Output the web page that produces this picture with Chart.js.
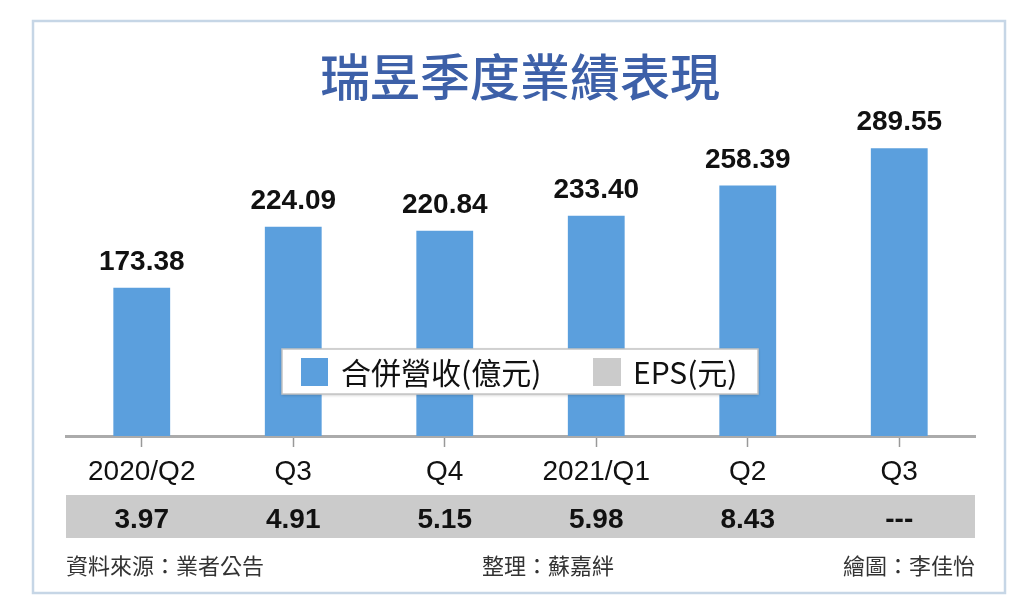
<!DOCTYPE html>
<html>
<head>
<meta charset="utf-8">
<script src="https://cdn.jsdelivr.net/npm/chart.js@4.4.0/dist/chart.umd.min.js"></script>
<style>
  html, body { margin: 0; padding: 0; background: #fff; }
</style>
</head>
<body>
<canvas id="rtkChart" width="1024" height="609"></canvas>
<script>
// Quarterly results data
var quarters = ['2020/Q2', 'Q3', 'Q4', '2021/Q1', 'Q2', 'Q3'];
var revenue = [173.38, 224.09, 220.84, 233.40, 258.39, 289.55];
var eps = [3.97, 4.91, 5.15, 5.98, 8.43, null];

var titleText = '瑞昱季度業績表現';
var revenueLabel = '合併營收(億元)';
var epsLabel = 'EPS(元)';
var footerLeft = '資料來源：業者公告';
var footerMid = '整理：蘇嘉絆';
var footerRight = '繪圖：李佳怡';

var BLUE = '#5b9fdd';
var GRAY = '#cbcbcb';
var CJK = '"Noto Sans CJK TC", "Noto Sans CJK SC", sans-serif';
var NUM = '"Liberation Sans", Arial, sans-serif';

// frame, title, EPS band behind everything
var backdrop = {
  id: 'backdrop',
  beforeDraw: function(chart) {
    var ctx = chart.ctx;
    var area = chart.chartArea;
    ctx.save();
    ctx.fillStyle = '#fff';
    ctx.fillRect(0, 0, chart.width, chart.height);
    ctx.strokeStyle = '#c6d6e6';
    ctx.lineWidth = 2.5;
    ctx.strokeRect(33, 21, 972, 572);

    ctx.fillStyle = '#3d60a8';
    ctx.font = '500 50px ' + CJK;
    ctx.textAlign = 'center';
    ctx.textBaseline = 'middle';
    ctx.fillText(titleText, 520, 77);

    ctx.fillStyle = GRAY;
    ctx.fillRect(area.left, 495, area.right - area.left, 43);
    ctx.restore();
  }
};

// value labels, legend box, EPS row, footer
var overlay = {
  id: 'overlay',
  afterDatasetsDraw: function(chart) {
    var ctx = chart.ctx;
    var area = chart.chartArea;
    var xScale = chart.scales.x;
    var meta = chart.getDatasetMeta(0);
    ctx.save();

    ctx.fillStyle = '#111';
    ctx.font = 'bold 28px ' + NUM;
    ctx.textAlign = 'center';
    ctx.textBaseline = 'alphabetic';
    meta.data.forEach(function(bar, i) {
      ctx.fillText(revenue[i].toFixed(2), bar.x, bar.y - 18);
    });

    // legend
    ctx.shadowColor = 'rgba(0,0,0,0.25)';
    ctx.shadowBlur = 3;
    ctx.shadowOffsetY = 1;
    ctx.fillStyle = '#fff';
    ctx.fillRect(282, 349, 476, 45);
    ctx.shadowColor = 'transparent';
    ctx.strokeStyle = '#c4c4c4';
    ctx.lineWidth = 1.5;
    ctx.strokeRect(282, 349, 476, 45);
    ctx.fillStyle = BLUE;
    ctx.fillRect(301, 358, 27, 28);
    ctx.fillStyle = GRAY;
    ctx.fillRect(593, 358, 28, 28);
    ctx.fillStyle = '#111';
    ctx.font = '30px ' + CJK;
    ctx.textAlign = 'left';
    ctx.textBaseline = 'middle';
    ctx.fillText(revenueLabel, 341, 373);
    ctx.fillText(epsLabel, 633, 373);

    // EPS row
    ctx.font = 'bold 28px ' + NUM;
    ctx.textAlign = 'center';
    ctx.textBaseline = 'alphabetic';
    eps.forEach(function(v, i) {
      var x = xScale.getPixelForValue(i);
      ctx.fillText(v === null ? '---' : v.toFixed(2), x, 528);
    });

    // footer
    ctx.fillStyle = '#333';
    ctx.font = '22px ' + CJK;
    ctx.textBaseline = 'middle';
    ctx.textAlign = 'left';
    ctx.fillText(footerLeft, area.left, 566);
    ctx.textAlign = 'center';
    ctx.fillText(footerMid, 548, 566);
    ctx.textAlign = 'right';
    ctx.fillText(footerRight, area.right, 566);
    ctx.restore();
  }
};

var ctx = document.getElementById('rtkChart').getContext('2d');
var rtkChart = new Chart(ctx, {
  type: 'bar',
  data: {
    labels: quarters,
    datasets: [{
      label: revenueLabel,
      data: revenue,
      backgroundColor: BLUE,
      categoryPercentage: 1,
      barPercentage: 0.375
    }]
  },
  options: {
    responsive: false,
    animation: false,
    devicePixelRatio: 1,
    layout: { padding: { left: 66, right: 49, top: 120, bottom: 0 } },
    plugins: {
      legend: { display: false },
      tooltip: { enabled: false }
    },
    scales: {
      x: {
        afterFit: function(scale) { scale.height = 173; },
        border: { display: true, color: '#ababab', width: 3 },
        grid: {
          offset: false,
          drawOnChartArea: false,
          drawTicks: true,
          tickLength: 11,
          tickColor: '#999',
          tickWidth: 1.5
        },
        ticks: {
          color: '#111',
          padding: 8,
          font: { family: NUM, size: 28 }
        }
      },
      y: {
        display: false,
        min: 50,
        max: 313
      }
    }
  },
  plugins: [backdrop, overlay]
});
</script>
</body>
</html>
